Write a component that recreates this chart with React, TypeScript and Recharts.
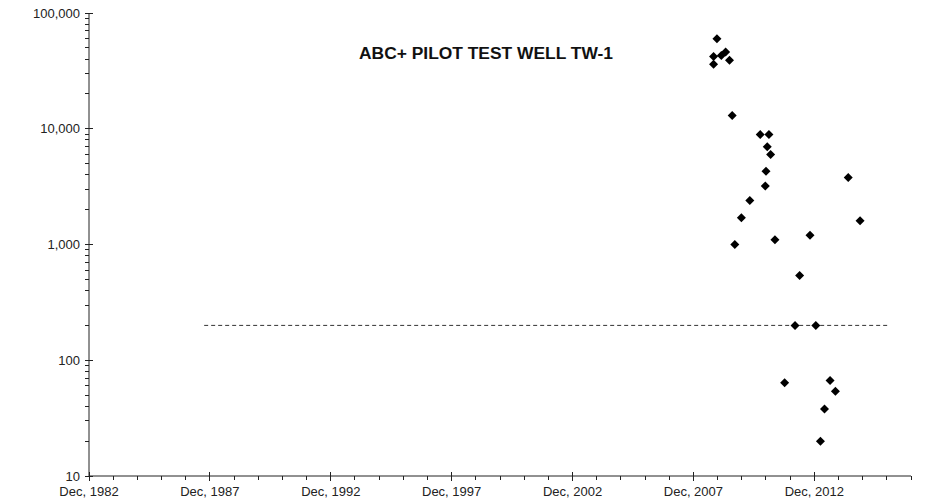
import { ReferenceLine, Scatter, ScatterChart, XAxis, YAxis } from 'recharts'

// sample dates as decimal years, concentrations in ug/L
const sampleYears = [
  2008.89, 2008.75, 2008.75, 2009.07, 2009.25, 2009.41, 2009.52, 2010.68, 2011.04, 2010.97,
  2011.11, 2010.92, 2010.89, 2010.25, 2009.9, 2009.63, 2011.29, 2012.74, 2012.31, 2014.32,
  2014.81, 2012.12, 2012.98, 2011.69, 2013.57, 2013.79, 2013.34, 2013.17,
]
const concentrations = [
  60000, 42000, 36000, 43000, 46000, 39000, 13000, 8900, 8900, 7000,
  6000, 4300, 3200, 2400, 1700, 1000, 1100, 1200, 540, 3800,
  1600, 200, 200, 64, 67, 54, 38, 20,
]

// yearly ticks at December, labelled every fifth year
const tickYears = Array.from({ length: 35 }, (_, i) => 1982 + i)
const majorYears = [1982, 1987, 1992, 1997, 2002, 2007, 2012]
const DEC = 11 / 12

// log axis: decades plus 2..9 minor ticks
const decades = [10, 100, 1000, 10000, 100000]
const yTicks = decades.flatMap((d) => (d === 100000 ? [d] : [1, 2, 3, 4, 5, 6, 7, 8, 9].map((m) => m * d)))

// cleanup standard line
const standardValue = 200
const standardFrom = 1987.68
const standardTo = 2016.04

const points = sampleYears.map((t, i) => ({ t, value: concentrations[i] }))

const FONT = '"Liberation Sans", Arial, sans-serif'
const AXIS = '#222'

const yearOf = (v: number) => Math.round(v - DEC)
const xLabel = (v: number) => (majorYears.includes(yearOf(v)) ? `Dec, ${yearOf(v)}` : '')
const yLabel = (v: number) => (decades.includes(v) ? v.toLocaleString('en-US') : '')
// snap 1px strokes onto the pixel grid so short ticks stay sharp
const crisp = (v: number) => Math.round(v - 0.5) + 0.5

function XTick({ x, y, payload }: any) {
  const label = xLabel(payload.value)
  const px = crisp(x)
  return (
    <g>
      {label ? (
        <line x1={px} x2={px} y1={y - 4} y2={y + 5} stroke={AXIS} />
      ) : (
        <line x1={px} x2={px} y1={y} y2={y + 4} stroke={AXIS} />
      )}
      {label && (
        <text x={x} y={y + 20} textAnchor="middle" fontSize={13} fontFamily={FONT} fill="#222">
          {label}
        </text>
      )}
    </g>
  )
}

function YTick({ x, y, payload }: any) {
  const label = yLabel(payload.value)
  const py = crisp(y)
  return (
    <g>
      {label ? (
        <line x1={x - 4} x2={x + 4} y1={py} y2={py} stroke={AXIS} />
      ) : (
        <line x1={x - 4} x2={x} y1={py} y2={py} stroke={AXIS} />
      )}
      {label && (
        <text x={x - 9} y={y + 4.5} textAnchor="end" fontSize={13} fontFamily={FONT} fill="#222">
          {label}
        </text>
      )}
    </g>
  )
}

const Diamond = ({ cx, cy }: any) => (
  <polygon points={`${cx},${cy - 4.5} ${cx + 4.5},${cy} ${cx},${cy + 4.5} ${cx - 4.5},${cy}`} fill="#000" />
)

export default function App() {
  return (
    <div style={{ position: 'absolute', left: 0, top: 0, width: 928, height: 504, background: '#fff' }}>
      <div
        style={{
          position: 'absolute',
          left: 0,
          width: 972,
          top: 43,
          textAlign: 'center',
          fontFamily: FONT,
          fontWeight: 'bold',
          fontSize: 17.4,
          color: '#111',
        }}
      >
        ABC+ PILOT TEST WELL TW-1
      </div>
      <ScatterChart width={928} height={504} margin={{ top: 13, right: 17, left: 0, bottom: 0 }}>
        <XAxis
          type="number"
          dataKey="t"
          domain={[1982 + DEC, 2016 + DEC]}
          ticks={tickYears.map((yr) => yr + DEC)}
          interval={0}
          minTickGap={0}
          height={28}
          tickSize={0}
          tickMargin={0}
          tickLine={false}
          tickFormatter={xLabel}
          tick={<XTick />}
          stroke={AXIS}
          allowDataOverflow
        />
        <YAxis
          type="number"
          dataKey="value"
          scale="log"
          domain={[10, 100000]}
          ticks={yTicks}
          interval={0}
          minTickGap={0}
          width={89}
          tickSize={0}
          tickMargin={0}
          tickLine={false}
          tickFormatter={yLabel}
          tick={<YTick />}
          stroke={AXIS}
          allowDataOverflow
        />
        <ReferenceLine
          segment={[
            { x: standardFrom, y: standardValue },
            { x: standardTo, y: standardValue },
          ]}
          stroke="#333"
          strokeDasharray="4 3"
        />
        <Scatter data={points} shape={<Diamond />} isAnimationActive={false} />
      </ScatterChart>
    </div>
  )
}
